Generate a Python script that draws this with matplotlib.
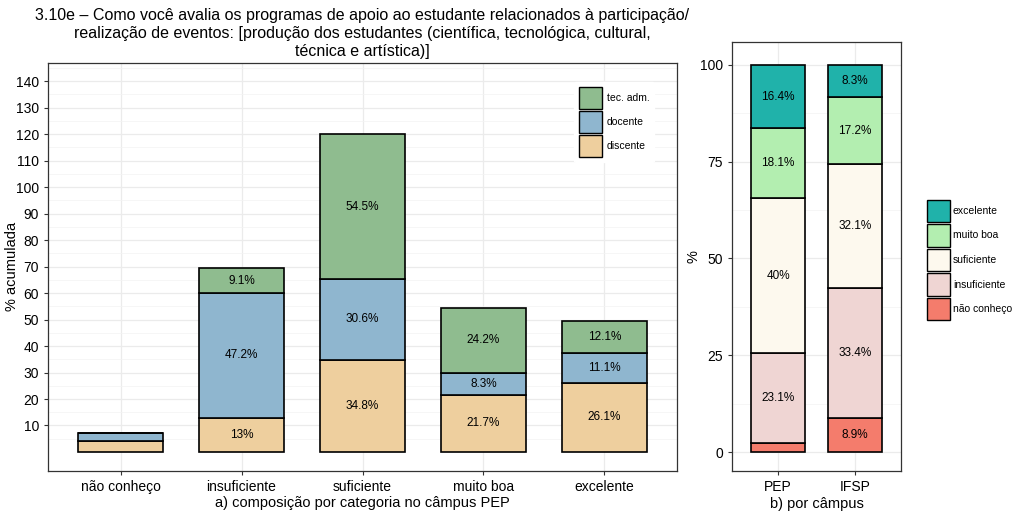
import matplotlib
matplotlib.use("Agg")
import matplotlib.pyplot as plt
from matplotlib.patches import Patch
from matplotlib.ticker import FixedLocator
import numpy as np

plt.rcParams['font.family'] = ['Liberation Sans', 'DejaVu Sans']

# ---- data: left panel (PEP, composition by category) ----
categories = ["não conheço", "insuficiente", "suficiente", "muito boa", "excelente"]
groups = ["discente", "docente", "tec. adm."]
discente = [4.3, 13.0, 34.8, 21.7, 26.1]
docente = [3.0, 47.2, 30.6, 8.3, 11.1]
tec_adm = [0.0, 9.1, 54.5, 24.2, 12.1]
discente_lbl = [None, "13%", "34.8%", "21.7%", "26.1%"]
docente_lbl = [None, "47.2%", "30.6%", "8.3%", "11.1%"]
tec_adm_lbl = [None, "9.1%", "54.5%", "24.2%", "12.1%"]
left_yticks = [10, 20, 30, 40, 50, 60, 70, 80, 90, 100, 110, 120, 130, 140]

# ---- data: right panel (by campus) ----
campus = ["PEP", "IFSP"]
levels = ["não conheço", "insuficiente", "suficiente", "muito boa", "excelente"]
nao_conheco = [2.4, 8.9]
insuficiente = [23.1, 33.4]
suficiente = [40.0, 32.1]
muito_boa = [18.1, 17.2]
excelente = [16.4, 8.3]
nao_conheco_lbl = [None, "8.9%"]
insuficiente_lbl = ["23.1%", "33.4%"]
suficiente_lbl = ["40%", "32.1%"]
muito_boa_lbl = ["18.1%", "17.2%"]
excelente_lbl = ["16.4%", "8.3%"]
right_yticks = [0, 25, 50, 75, 100]

title = ("3.10e – Como você avalia os programas de apoio ao estudante relacionados à participação/\n"
         "realização de eventos: [produção dos estudantes (científica, tecnológica, cultural,\n"
         "técnica e artística)]")

left_colors = ["#eecf9e", "#8fb6cf", "#8fbc8f"]
right_colors = ["#f47c6c", "#efd5d3", "#fdf9ee", "#b3eeb0", "#20b2aa"]

W, H = 1024, 512
fig = plt.figure(figsize=(W / 100, H / 100), dpi=100)


def px_axes(x0, y0, x1, y1):
    return fig.add_axes([x0 / W, 1 - y1 / H, (x1 - x0) / W, (y1 - y0) / H])


def style(ax):
    ax.set_facecolor("white")
    for s in ax.spines.values():
        s.set_color("#333333")
        s.set_linewidth(0.9)
    ax.tick_params(axis="both", colors="#333333", length=3, width=0.8,
                   labelsize=10, labelcolor="black")
    ax.grid(True, which="major", color="#ebebeb", linewidth=0.9)
    ax.grid(True, which="minor", axis="y", color="#f3f3f3", linewidth=0.5)
    ax.set_axisbelow(True)


# ---------- left panel ----------
axL = px_axes(48, 62.7, 677, 470.5)
style(axL)
x = np.arange(1, len(categories) + 1)
series = [discente, docente, tec_adm]
labels = [discente_lbl, docente_lbl, tec_adm_lbl]
bottom = np.zeros(len(categories))
for vals, lbls, col in zip(series, labels, left_colors):
    vals = np.array(vals)
    axL.bar(x, vals, 0.7, bottom=bottom, color=col, edgecolor="black", linewidth=1.2)
    for xi, b, v, t in zip(x, bottom, vals, lbls):
        if t:
            axL.text(xi, b + v / 2, t, ha="center", va="center", fontsize=8.5)
    bottom = bottom + vals
axL.set_xlim(0.4, 5.6)
axL.set_ylim(-7, 147)
axL.yaxis.set_major_locator(FixedLocator(left_yticks))
axL.yaxis.set_minor_locator(FixedLocator([5 + 10 * i for i in range(15)]))
axL.tick_params(axis="y", which="minor", length=0)
axL.set_xticks(x)
axL.set_xticklabels(categories)
axL.set_ylabel("% acumulada", fontsize=10.5)
axL.yaxis.set_label_coords((19 - 48) / (677 - 48), 0.5)
axL.set_xlabel("a) composição por categoria no câmpus PEP", fontsize=10.5, labelpad=2)
axL.set_title(title, fontsize=11.5, pad=5, linespacing=1.22)
leg = axL.legend(handles=[Patch(facecolor=c, edgecolor="black", linewidth=1.0, label=g)
                          for g, c in zip(groups, left_colors)][::-1],
                 loc="upper left", bbox_to_anchor=((569 - 48) / 629, 1 - (77 - 62.7) / 407.8),
                 frameon=True, fontsize=7.5, handlelength=2.2, handleheight=2.85,
                 labelspacing=0.2, handletextpad=0.4, borderpad=0.5)
leg.get_frame().set_edgecolor("white")
leg.get_frame().set_facecolor("white")
leg.get_frame().set_alpha(1)

# ---------- right panel ----------
axR = px_axes(732, 42.3, 901, 471)
style(axR)
xr = np.arange(1, len(campus) + 1)
rseries = [nao_conheco, insuficiente, suficiente, muito_boa, excelente]
rlabels = [nao_conheco_lbl, insuficiente_lbl, suficiente_lbl, muito_boa_lbl, excelente_lbl]
bottom = np.zeros(len(campus))
for vals, lbls, col in zip(rseries, rlabels, right_colors):
    vals = np.array(vals)
    axR.bar(xr, vals, 0.7, bottom=bottom, color=col, edgecolor="black", linewidth=1.2)
    for xi, b, v, t in zip(xr, bottom, vals, lbls):
        if t:
            axR.text(xi, b + v / 2, t, ha="center", va="center", fontsize=8.5)
    bottom = bottom + vals
axR.set_xlim(0.4, 2.6)
axR.set_ylim(-4.9, 105.8)
axR.yaxis.set_major_locator(FixedLocator(right_yticks))
axR.yaxis.set_minor_locator(FixedLocator([12.5, 37.5, 62.5, 87.5]))
axR.tick_params(axis="y", which="minor", length=0)
axR.set_xticks(xr)
axR.set_xticklabels(campus)
axR.set_ylabel("%", fontsize=10.5)
axR.yaxis.set_label_coords((700 - 732) / (901 - 732), 0.5)
axR.set_xlabel("b) por câmpus", fontsize=10.5, labelpad=2)

fig.legend(handles=[Patch(facecolor=c, edgecolor="black", linewidth=1.0, label=l)
                    for l, c in zip(levels, right_colors)][::-1],
           loc="center left", bbox_to_anchor=(918 / W, 1 - 260 / H), frameon=False,
           fontsize=7.5, handlelength=2.15, handleheight=2.95, labelspacing=0.2,
           handletextpad=0.3)

fig.savefig("out.png", dpi=100)
